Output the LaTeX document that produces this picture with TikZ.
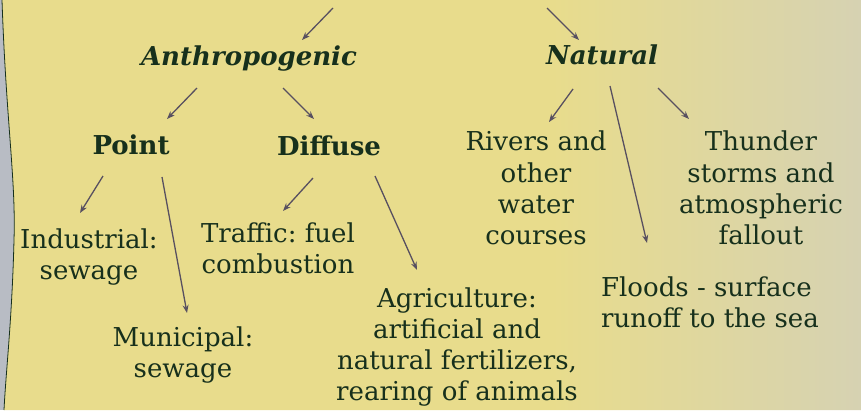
\documentclass[tikz,border=0pt]{standalone}
\usepackage{fontspec}
\setmainfont{DejaVu Serif}
\usetikzlibrary{arrows.meta,positioning,calc}
\frenchspacing
\definecolor{paper}{HTML}{E8DC8C}
\definecolor{paperfade}{HTML}{D6D2B2}
\definecolor{slate}{HTML}{B8BCC4}
\definecolor{ink}{HTML}{17301C}
\definecolor{wire}{HTML}{585060}
\pgfdeclarehorizontalshading{paperwash}{100bp}{color(0bp)=(paper); color(57bp)=(paper); color(75bp)=(paperfade); color(100bp)=(paperfade)}
\tikzset{cat/.style={font=\fontsize{26}{31}\selectfont\bfseries\itshape,text=ink,inner sep=0pt},sub/.style={font=\fontsize{26}{31}\selectfont\bfseries,text=ink,inner sep=0pt},leaf/.style={font=\fontsize{26}{31.3}\selectfont,text=ink,align=center,inner sep=0pt},flow/.style={-{Stealth[length=8pt,width=6pt]},line width=1.3pt,draw=wire}}
\begin{document}
\begin{tikzpicture}[x=1pt,y=-1pt]
\useasboundingbox (0,0) rectangle (861,410);
\fill[slate] (0,0) rectangle (861,410);
\shade[shading=paperwash] (2,0) .. controls (6,120) and (16,180) .. (14,240) .. controls (12,320) and (6,370) .. (4,410) -- (861,410) -- (861,0) -- cycle;
\draw[ink,line width=0.8pt] (2,0) .. controls (6,120) and (16,180) .. (14,240) .. controls (12,320) and (6,370) .. (4,410);
% upper level
\node[cat] (anthro) at (249,59) {Anthropogenic};
\node[cat] (natural) at (602,55) {Natural};
\coordinate (fromL) at (333,8);
\coordinate (fromR) at (547,8);
\node[sub] (point) at (131,145) {Point};
\node[sub] (diffuse) at (329,146) {Diffuse};
% sources
\node[leaf] (industrial) at (89,257) {Industrial:\\sewage};
\node[leaf] (municipal) at (183,355) {Municipal:\\sewage};
\node[leaf] (traffic) at (278,248) {Traffic: fuel\\combustion};
\node[leaf] (agri) at (457,347) {Agriculture:\\artificial and\\natural fertilizers,\\rearing of animals};
\node[leaf] (rivers) at (536,188) {Rivers and\\other\\water\\courses};
\node[leaf] (thunder) at (761,188) {Thunder\\storms and\\atmospheric\\fallout};
\node[leaf,align=left] (floods) at (710,302) {Floods - surface\\runoff to the sea};
\draw[flow] (fromL) -- ([shift={(53,-19)}]anthro.center);
\draw[flow] (fromR) -- ([shift={(-23,-15)}]natural.center);
\draw[flow] ([shift={(-52,29)}]anthro.center) -- ([shift={(36,-26)}]point.center);
\draw[flow] ([shift={(34,29)}]anthro.center) -- ([shift={(-15,-27)}]diffuse.center);
\draw[flow] ([shift={(-28,31)}]point.center) -- ([shift={(-9,-44)}]industrial.center);
\draw[flow] ([shift={(31,32)}]point.center) -- ([shift={(4,-42)}]municipal.center);
\draw[flow] ([shift={(-16,32)}]diffuse.center) -- ([shift={(5,-37)}]traffic.center);
\draw[flow] ([shift={(46,30)}]diffuse.center) -- ([shift={(-40,-77)}]agri.center);
\draw[flow] ([shift={(-29,34)}]natural.center) -- ([shift={(13,-66)}]rivers.center);
\draw[flow] ([shift={(8,31)}]natural.center) -- ([shift={(-63,-59)}]floods.center);
\draw[flow] ([shift={(56,33)}]natural.center) -- ([shift={(-72,-69)}]thunder.center);
\end{tikzpicture}
\end{document}
